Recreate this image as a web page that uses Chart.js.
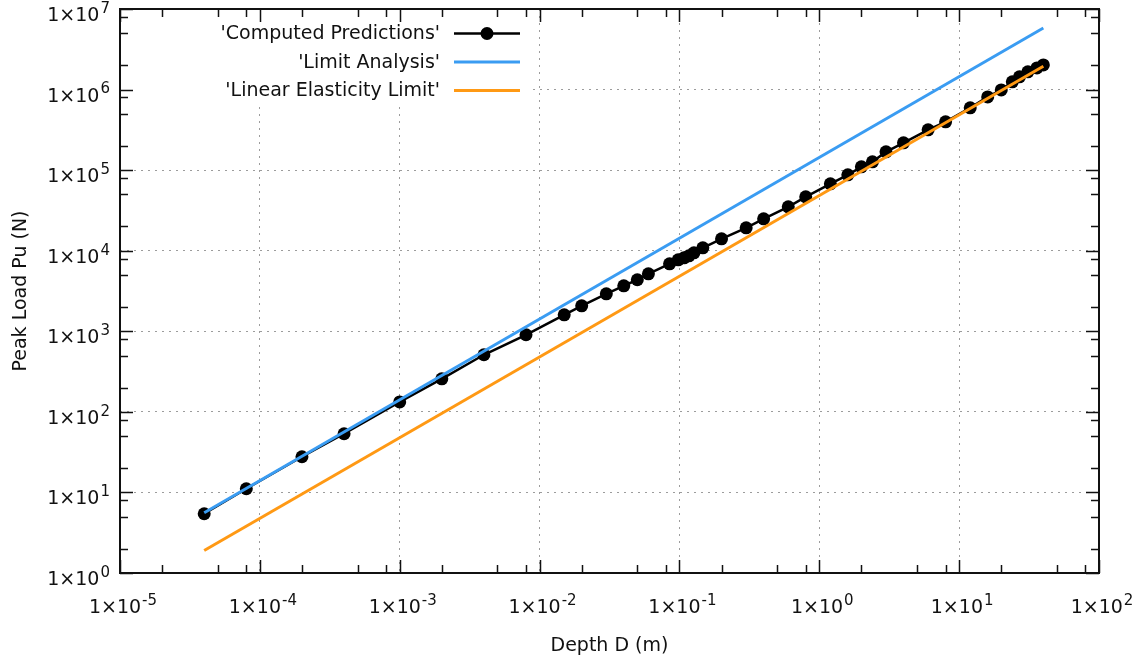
<!DOCTYPE html>
<html>
<head>
<meta charset="utf-8">
<title>Peak load vs depth</title>
<script src="https://cdn.jsdelivr.net/npm/chart.js"></script>
<style>
  html, body { margin: 0; padding: 0; background: #fff; }
  #wrap { width: 1144px; height: 666px; }
</style>
</head>
<body>
<div id="wrap"><canvas id="myChart" width="1144" height="666"></canvas></div>
<script>
// computed peak loads
const depth = [
  4e-5, 8e-5, 2e-4, 4e-4, 1e-3, 2e-3, 4e-3, 8e-3,
  0.015, 0.02, 0.03, 0.04, 0.05, 0.06, 0.085, 0.098, 0.108, 0.117, 0.127, 0.147,
  0.2, 0.3, 0.4, 0.6, 0.8, 1.2, 1.6, 2, 2.4, 3, 4, 6, 8,
  12, 16, 20, 24, 27, 31, 36, 40,
];
const peakLoad = [
  5.44, 11.1, 27.7, 53.5, 133, 257, 511, 905,
  1600, 2070, 2920, 3670, 4360, 5170, 6880, 7710, 8170, 8650, 9420, 10860,
  14060, 19230, 24890, 35060, 46650, 67600, 87500, 109900, 126800, 168700, 218200, 316300, 397500,
  593000, 811000, 991000, 1247000, 1438000, 1659000, 1858000, 2025000,
];

// analytical bounds (straight in log-log, end points only)
const limitDepth = [4e-5, 40];
const limitLoad = [5.6, 5.8e6];
const elasticDepth = [4e-5, 40];
const elasticLoad = [1.9, 1.95e6];

// axis decades and minor tick multiples
const xExponents = [-5, -4, -3, -2, -1, 0, 1, 2];
const yExponents = [0, 1, 2, 3, 4, 5, 6, 7];
const minorSteps = [2, 5, 8];

const FONT = "DejaVu Sans";
const BLUE = "#3a9cf2";
const ORANGE = "#ff9914";

function toPoints(xs, ys) {
  return xs.map((x, i) => ({ x: x, y: ys[i] }));
}

// "1x10" with raised exponent
function drawPower(ctx, exp, x, y, align) {
  const base = "1×10";
  const sup = String(exp);
  ctx.font = "19px " + FONT;
  const bw = ctx.measureText(base).width;
  ctx.font = "15px " + FONT;
  const sw = ctx.measureText(sup).width;
  const total = bw + 1 + sw;
  const left = align === "right" ? x - total : x - total / 2;
  ctx.textAlign = "left";
  ctx.textBaseline = "middle";
  ctx.font = "19px " + FONT;
  ctx.fillText(base, left, y + 7);
  ctx.font = "15px " + FONT;
  ctx.fillText(sup, left + bw + 1, y);
}

const gnuplotFrame = {
  id: "gnuplotFrame",
  beforeDatasetsDraw(chart) {
    // key background covers the grid
    const { ctx, chartArea: a } = chart;
    ctx.save();
    ctx.fillStyle = "#fff";
    ctx.fillRect(a.left + 1, a.top + 1, 527 - a.left, 105 - a.top);
    ctx.restore();
  },
  afterDatasetsDraw(chart) {
    const { ctx, chartArea: a, scales } = chart;
    const xs = scales.x;
    const ys = scales.y;
    ctx.save();

    // inward ticks on all four sides
    ctx.strokeStyle = "#111";
    ctx.lineWidth = 1.5;
    ctx.beginPath();
    const xTick = (v, len) => {
      const px = Math.round(xs.getPixelForValue(v)) + 0.5;
      ctx.moveTo(px, a.bottom); ctx.lineTo(px, a.bottom - len);
      ctx.moveTo(px, a.top); ctx.lineTo(px, a.top + len);
    };
    const yTick = (v, len) => {
      const py = Math.round(ys.getPixelForValue(v)) + 0.5;
      ctx.moveTo(a.left, py); ctx.lineTo(a.left + len, py);
      ctx.moveTo(a.right, py); ctx.lineTo(a.right - len, py);
    };
    xExponents.forEach((e, i) => {
      const dec = Math.pow(10, e);
      xTick(dec, 13);
      if (i < xExponents.length - 1) minorSteps.forEach(m => xTick(m * dec, 8));
    });
    yExponents.forEach((e, i) => {
      const dec = Math.pow(10, e);
      yTick(dec, 13);
      if (i < yExponents.length - 1) minorSteps.forEach(m => yTick(m * dec, 8));
    });
    ctx.stroke();

    // border
    ctx.lineWidth = 2;
    ctx.strokeRect(a.left, a.top, a.right - a.left, a.bottom - a.top);

    // tick labels
    ctx.fillStyle = "#111";
    xExponents.forEach(e => {
      drawPower(ctx, e, xs.getPixelForValue(Math.pow(10, e)) + 3, a.bottom + 28, "center");
    });
    yExponents.forEach(e => {
      drawPower(ctx, e, a.left - 10, ys.getPixelForValue(Math.pow(10, e)), "right");
    });

    // key: text on the left, sample on the right
    const rows = [33.5, 62, 90.5];
    chart.data.datasets.forEach((ds, i) => {
      const ry = rows[i];
      ctx.font = "19px " + FONT;
      ctx.textAlign = "right";
      ctx.textBaseline = "middle";
      ctx.fillStyle = "#111";
      ctx.fillText(ds.label, 440, ry + 1);
      ctx.beginPath();
      ctx.strokeStyle = ds.borderColor;
      ctx.lineWidth = ds.borderWidth;
      ctx.moveTo(454, ry);
      ctx.lineTo(520, ry);
      ctx.stroke();
      if (ds.pointRadius > 0) {
        ctx.beginPath();
        ctx.fillStyle = ds.pointBackgroundColor;
        ctx.arc(487, ry, ds.pointRadius, 0, Math.PI * 2);
        ctx.fill();
      }
    });

    ctx.restore();
  },
};

const gridColor = (c) =>
  c.index === 0 || c.index === c.scale.ticks.length - 1 ? "rgba(0,0,0,0)" : "#9c9c9c";

const myChart = new Chart("myChart", {
  type: "line",
  data: {
    datasets: [
      {
        label: "'Computed Predictions'",
        data: toPoints(depth, peakLoad),
        borderColor: "#000",
        borderWidth: 2.5,
        pointRadius: 6.5,
        pointBackgroundColor: "#000",
        pointBorderWidth: 0,
        order: 3,
      },
      {
        label: "'Limit Analysis'",
        data: toPoints(limitDepth, limitLoad),
        borderColor: BLUE,
        borderWidth: 3,
        pointRadius: 0,
        order: 2,
      },
      {
        label: "'Linear Elasticity Limit'",
        data: toPoints(elasticDepth, elasticLoad),
        borderColor: ORANGE,
        borderWidth: 3,
        pointRadius: 0,
        order: 1,
      },
    ],
  },
  options: {
    responsive: false,
    animation: false,
    devicePixelRatio: 1,
    layout: {
      padding: { top: 9, right: 45, left: 0, bottom: 0 },
    },
    scales: {
      x: {
        type: "logarithmic",
        min: 1e-5,
        max: 100,
        afterBuildTicks: (ax) => {
          ax.ticks = xExponents.map((e) => ({ value: Math.pow(10, e) }));
        },
        afterFit: (ax) => {
          ax.height = 93;
        },
        ticks: { display: false },
        grid: { color: gridColor, lineWidth: 1, drawTicks: false },
        border: { display: false, dash: [2, 5] },
        title: {
          display: true,
          text: "Depth D (m)",
          color: "#111",
          font: { family: FONT, size: 19 },
          padding: { top: 4, bottom: 9 },
        },
      },
      y: {
        type: "logarithmic",
        min: 1,
        max: 1e7,
        afterBuildTicks: (ax) => {
          ax.ticks = yExponents.map((e) => ({ value: Math.pow(10, e) }));
        },
        afterFit: (ax) => {
          ax.width = 120;
        },
        ticks: { display: false },
        grid: { color: gridColor, lineWidth: 1, drawTicks: false },
        border: { display: false, dash: [2, 5] },
        title: {
          display: true,
          text: "Peak Load Pu (N)",
          color: "#111",
          font: { family: FONT, size: 19 },
          padding: { top: 10, bottom: 4 },
        },
      },
    },
    plugins: {
      legend: { display: false },
      tooltip: { enabled: false },
    },
  },
  plugins: [gnuplotFrame],
});
</script>
</body>
</html>
